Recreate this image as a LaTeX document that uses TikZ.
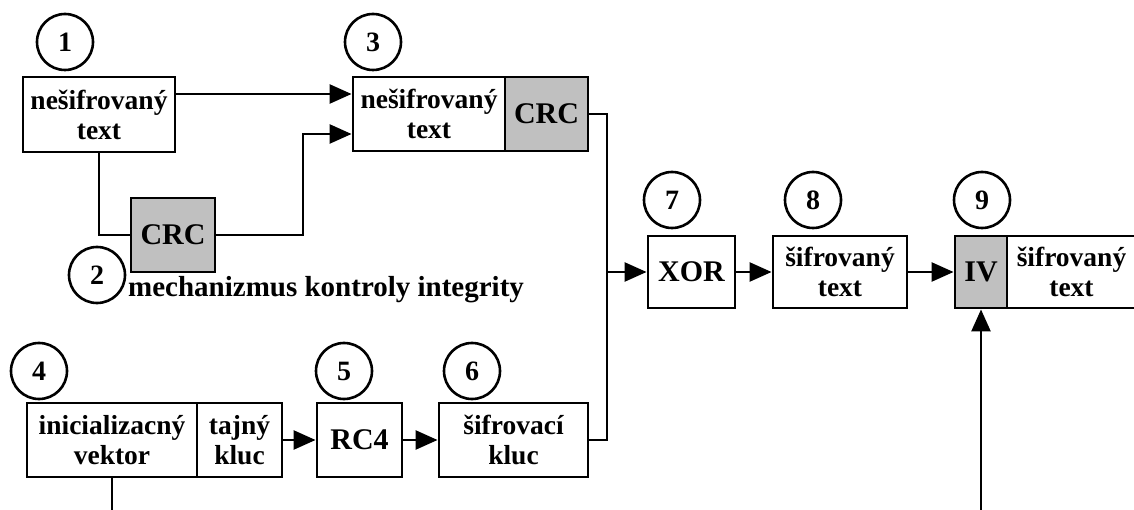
\documentclass[tikz,border=0pt]{standalone}
\usepackage{fontspec}
\setmainfont{Liberation Serif}
\usetikzlibrary{arrows.meta,calc}
\definecolor{boxgrey}{RGB}{192,192,192}
\begin{document}
\begin{tikzpicture}[x=1pt,y=-1pt,
  box/.style={draw,line width=2.9pt,inner sep=0pt,align=center,minimum height=74pt,
    font=\fontsize{27.5}{30}\selectfont\bfseries},
  greybox/.style={box,fill=boxgrey},
  big/.style={font=\fontsize{30}{30}\selectfont\bfseries},
  num/.style={draw,circle,line width=2.6pt,minimum size=56pt,inner sep=0pt,fill=white,
    font=\fontsize{28}{30}\selectfont\bfseries},
  conn/.style={line width=2.6pt},
  arr/.style={conn,-{Triangle[length=22pt,width=19pt]}}]
\useasboundingbox (0,0) rectangle (1134,510);
% circles
\node[num] (c1) at (65,42) {1};
\node[num] (c2) at (97,275) {2};
\node[num] (c3) at (373,42) {3};
\node[num] (c4) at (39,371) {4};
\node[num] (c5) at (344,371) {5};
\node[num] (c6) at (472,371) {6};
\node[num] (c7) at (672,200) {7};
\node[num] (c8) at (813,200) {8};
\node[num] (c9) at (982,200) {9};
% boxes
\node[box,minimum width=152pt,minimum height=75pt] (b1) at (99,114.5) {nešifrovaný\\text};
\node[greybox,big,minimum width=84pt] (crc2) at (173,235) {CRC};
\node[box,minimum width=152pt] (b3l) at (429,114) {nešifrovaný\\text};
\node[greybox,big,minimum width=83pt] (b3r) at (546.5,114) {CRC};
\node[box,big,minimum width=87pt,minimum height=72pt] (xor) at (691.5,272) {XOR};
\node[box,minimum width=134pt,minimum height=72pt] (b8) at (840,272) {šifrovaný\\text};
\node[greybox,big,minimum width=52pt,minimum height=72pt] (b9iv) at (981,272) {IV};
\node[box,minimum width=129pt,minimum height=72pt] (b9t) at (1071.5,272) {šifrovaný\\text};
\node[box,minimum width=170pt] (b4l) at (112,440) {inicializacný\\vektor};
\node[box,minimum width=85pt] (b4r) at (239.5,440) {tajný\\kluc};
\node[box,big,minimum width=85pt] (rc4) at (359.5,440) {RC4};
\node[box,minimum width=149pt] (b6) at (513.5,440) {šifrovací\\kluc};
% label
\node[anchor=base west,inner sep=0pt,font=\fontsize{29}{30}\selectfont\bfseries] (lbl) at (128,297) {mechanizmus kontroly integrity};
% coordinates
\coordinate (in1) at ($(b3l.north west)!0.24!(b3l.south west)$);
\coordinate (in2) at ($(b3l.north west)!0.76!(b3l.south west)$);
\coordinate (bendx) at (303,0);
\coordinate (bus) at (607,0);
\coordinate (bot) at (0,515);
% connectors
\draw[arr] (b1.east |- in1) -- (in1);
\draw[conn] (b1.south) |- (crc2.west);
\draw[arr] (crc2.east) -- (crc2.east -| bendx) |- (in2);
\draw[conn] (b3r.east) -- (b3r.east -| bus) |- (b6.east);
\draw[arr] (xor.west -| bus) -- (xor.west);
\draw[arr] (xor.east) -- (b8.west);
\draw[arr] (b8.east) -- (b9iv.west);
\draw[arr] (b4r.east) -- (rc4.west);
\draw[arr] (rc4.east) -- (b6.west);
\draw[conn] (b4l.south) -- (b4l.south |- bot);
\draw[arr] (b9iv.south |- bot) -- (b9iv.south);
\end{tikzpicture}
\end{document}
